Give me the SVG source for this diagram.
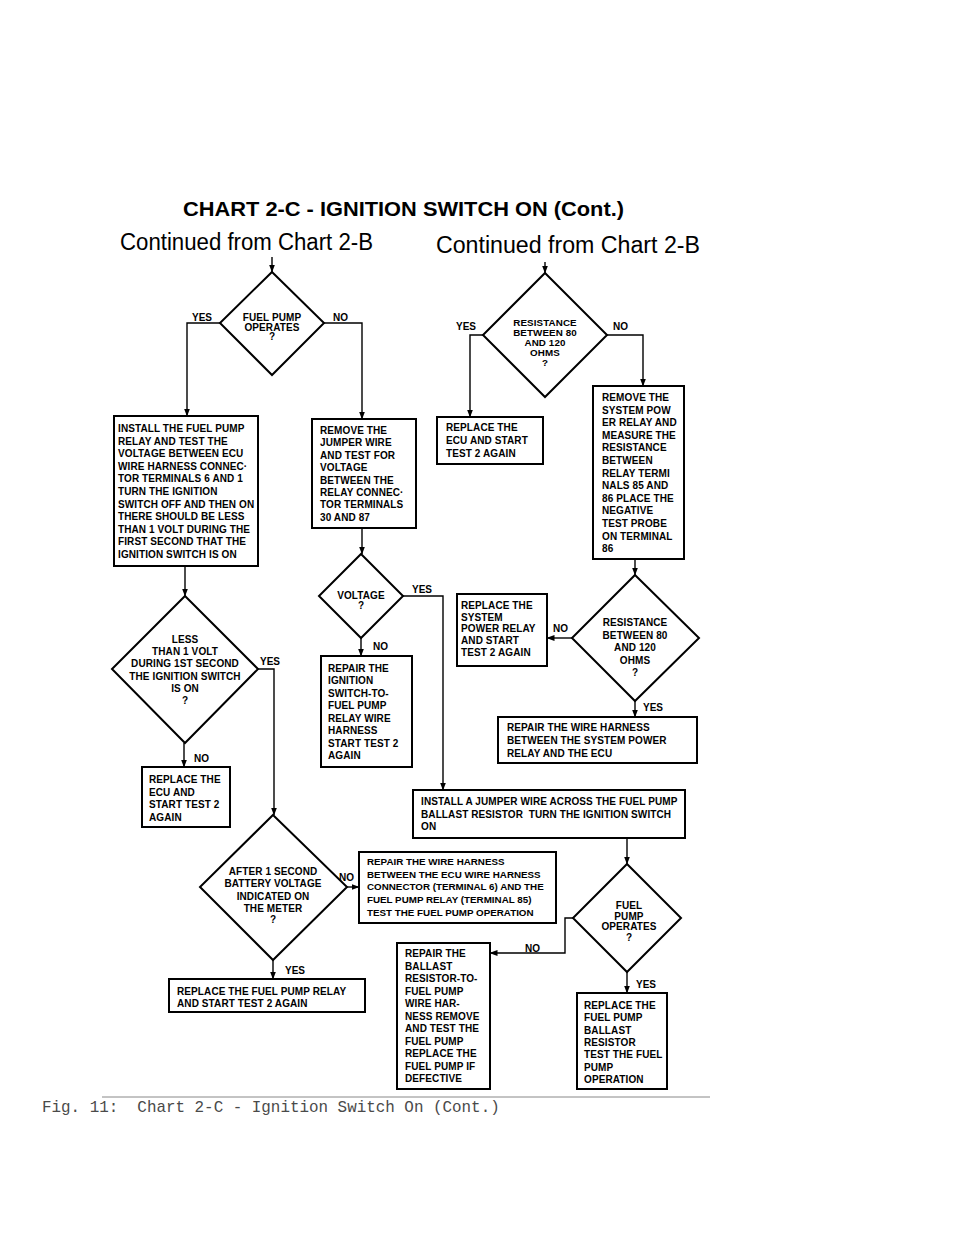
<svg xmlns="http://www.w3.org/2000/svg" width="960" height="1242" viewBox="0 0 960 1242">
<style>
.bg{fill:#fff}
.box{fill:#fff;stroke:#000;stroke-width:2}
.dia{fill:#fff;stroke:#000;stroke-width:2}
.conn{fill:none;stroke:#000;stroke-width:1.4}
.t{font-family:"Liberation Sans",Arial,sans-serif;font-weight:bold;font-size:10px;letter-spacing:0.1px;fill:#000}
.c{text-anchor:middle}
.lbl{font-family:"Liberation Sans",Arial,sans-serif;font-weight:bold;font-size:10px;fill:#000}
.title{font-family:"Liberation Sans",Arial,sans-serif;font-weight:900;font-size:19.5px;fill:#000}
.cont{font-family:"Liberation Sans",Arial,sans-serif;font-size:23px;fill:#000}
.cap{font-family:"Liberation Mono","Courier New",monospace;font-size:15.9px;fill:#4a4a4a}
</style>
<defs>
<marker id="ah" markerUnits="userSpaceOnUse" markerWidth="8" markerHeight="8" viewBox="0 0 8 8" refX="7.5" refY="4" orient="auto">
<path d="M0,1 L8,4 L0,7 Z" fill="#000"/>
</marker>
</defs>
<rect class="bg" x="0" y="0" width="960" height="1242"/>

<text class="title" x="183" y="216" textLength="441" lengthAdjust="spacingAndGlyphs">CHART 2-C  -  IGNITION SWITCH ON (Cont.)</text>
<text class="cont" x="120" y="250" textLength="253" lengthAdjust="spacingAndGlyphs">Continued from Chart 2-B</text>
<text class="cont" x="436" y="253" textLength="264" lengthAdjust="spacingAndGlyphs">Continued from Chart 2-B</text>

<g id="connectors">
<path class="conn" d="M272,257 V272" marker-end="url(#ah)"/>
<path class="conn" d="M545,262 V273" marker-end="url(#ah)"/>
<path class="conn" d="M220,323 H187 V416" marker-end="url(#ah)"/>
<path class="conn" d="M324,323 H362 V419" marker-end="url(#ah)"/>
<path class="conn" d="M362,528 V554" marker-end="url(#ah)"/>
<path class="conn" d="M403,596 H443 V790" marker-end="url(#ah)"/>
<path class="conn" d="M361,638 V656" marker-end="url(#ah)"/>
<path class="conn" d="M185,566 V596" marker-end="url(#ah)"/>
<path class="conn" d="M257,669 H274 V815" marker-end="url(#ah)"/>
<path class="conn" d="M184,743 V767" marker-end="url(#ah)"/>
<path class="conn" d="M347,887 H359" marker-end="url(#ah)"/>
<path class="conn" d="M273,960 V979" marker-end="url(#ah)"/>
<path class="conn" d="M483,335 H470 V417" marker-end="url(#ah)"/>
<path class="conn" d="M607,335 H643 V386" marker-end="url(#ah)"/>
<path class="conn" d="M635,559 V575" marker-end="url(#ah)"/>
<path class="conn" d="M572,638 H547" marker-end="url(#ah)"/>
<path class="conn" d="M635,701 V717" marker-end="url(#ah)"/>
<path class="conn" d="M627,838 V864" marker-end="url(#ah)"/>
<path class="conn" d="M573,918 H565 V953 H490" marker-end="url(#ah)"/>
<path class="conn" d="M627,972 V993" marker-end="url(#ah)"/>
</g>

<g id="labels">
<text class="lbl" x="192" y="321">YES</text>
<text class="lbl" x="333" y="321">NO</text>
<text class="lbl" x="456" y="330">YES</text>
<text class="lbl" x="613" y="330">NO</text>
<text class="lbl" x="412" y="593">YES</text>
<text class="lbl" x="373" y="650">NO</text>
<text class="lbl" x="260" y="665">YES</text>
<text class="lbl" x="194" y="762">NO</text>
<text class="lbl" x="553" y="632">NO</text>
<text class="lbl" x="643" y="711">YES</text>
<text class="lbl" x="339" y="881">NO</text>
<text class="lbl" x="285" y="974">YES</text>
<text class="lbl" x="525" y="952">NO</text>
<text class="lbl" x="636" y="988">YES</text>
</g>

<g id="d_fuelpump1">
<polygon class="dia" points="272,272 324,323 272,375 220,323"/>
<text class="t c" x="272" y="321">FUEL PUMP<tspan x="272" dy="10">OPERATES</tspan><tspan x="272" dy="9">?</tspan></text>
</g>

<g id="b_install_relay">
<rect class="box" x="114" y="416" width="144" height="150"/>
<text class="t" x="118" y="432">INSTALL THE FUEL PUMP<tspan x="118" dy="12.6">RELAY AND TEST THE</tspan><tspan x="118" dy="12.6">VOLTAGE BETWEEN ECU</tspan><tspan x="118" dy="12.6">WIRE HARNESS CONNEC·</tspan><tspan x="118" dy="12.6">TOR TERMINALS 6 AND 1</tspan><tspan x="118" dy="12.6">TURN THE IGNITION</tspan><tspan x="118" dy="12.6">SWITCH OFF AND THEN ON</tspan><tspan x="118" dy="12.6">THERE SHOULD BE LESS</tspan><tspan x="118" dy="12.6">THAN 1 VOLT DURING THE</tspan><tspan x="118" dy="12.6">FIRST SECOND THAT THE</tspan><tspan x="118" dy="12.6">IGNITION SWITCH IS ON</tspan></text>
</g>

<g id="b_remove_jumper">
<rect class="box" x="312" y="419" width="104" height="109"/>
<text class="t" x="320" y="434">REMOVE THE<tspan x="320" dy="12.4">JUMPER WIRE</tspan><tspan x="320" dy="12.4">AND TEST FOR</tspan><tspan x="320" dy="12.4">VOLTAGE</tspan><tspan x="320" dy="12.4">BETWEEN THE</tspan><tspan x="320" dy="12.4">RELAY CONNEC·</tspan><tspan x="320" dy="12.4">TOR TERMINALS</tspan><tspan x="320" dy="12.4">30 AND 87</tspan></text>
</g>

<g id="d_voltage">
<polygon class="dia" points="361,554 403,596 361,638 319,596"/>
<text class="t c" x="361" y="599">VOLTAGE<tspan x="361" dy="10">?</tspan></text>
</g>

<g id="b_repair_ign">
<rect class="box" x="321" y="656" width="91" height="111"/>
<text class="t" x="328" y="672">REPAIR THE<tspan x="328" dy="12.45">IGNITION</tspan><tspan x="328" dy="12.45">SWITCH-TO-</tspan><tspan x="328" dy="12.45">FUEL PUMP</tspan><tspan x="328" dy="12.45">RELAY WIRE</tspan><tspan x="328" dy="12.45">HARNESS</tspan><tspan x="328" dy="12.45">START TEST 2</tspan><tspan x="328" dy="12.45">AGAIN</tspan></text>
</g>

<g id="d_less">
<polygon class="dia" points="185,596 258,669 185,743 112,669"/>
<text class="t c" x="185" y="643">LESS<tspan x="185" dy="12.2">THAN 1 VOLT</tspan><tspan x="185" dy="12.2">DURING 1ST SECOND</tspan><tspan x="185" dy="12.2">THE IGNITION SWITCH</tspan><tspan x="185" dy="12.2">IS ON</tspan><tspan x="185" dy="12">?</tspan></text>
</g>

<g id="b_replace_ecu_left">
<rect class="box" x="142" y="767" width="88" height="60"/>
<text class="t" x="149" y="783">REPLACE THE<tspan x="149" dy="12.5">ECU AND</tspan><tspan x="149" dy="12.5">START TEST 2</tspan><tspan x="149" dy="12.5">AGAIN</tspan></text>
</g>

<g id="d_after">
<polygon class="dia" points="273,815 347,887 273,960 200,887"/>
<text class="t c" x="273" y="875">AFTER 1 SECOND<tspan x="273" dy="12.3">BATTERY VOLTAGE</tspan><tspan x="273" dy="12.3">INDICATED ON</tspan><tspan x="273" dy="12.3">THE METER</tspan><tspan x="273" dy="11.5">?</tspan></text>
</g>

<g id="b_replace_fp_relay">
<rect class="box" x="169" y="979" width="196" height="33"/>
<text class="t" x="177" y="995">REPLACE THE FUEL PUMP RELAY<tspan x="177" dy="12">AND START TEST 2 AGAIN</tspan></text>
</g>

<g id="d_res1">
<polygon class="dia" points="545,273 607,335 545,397 483,335"/>
<text class="t c" x="545" y="326" style="font-size:9.8px">RESISTANCE<tspan x="545" dy="10">BETWEEN 80</tspan><tspan x="545" dy="10">AND 120</tspan><tspan x="545" dy="9.5">OHMS</tspan><tspan x="545" dy="10">?</tspan></text>
</g>

<g id="b_replace_ecu_right">
<rect class="box" x="437" y="417" width="106" height="47"/>
<text class="t" x="446" y="431">REPLACE THE<tspan x="446" dy="13">ECU AND START</tspan><tspan x="446" dy="13">TEST 2 AGAIN</tspan></text>
</g>

<g id="b_remove_sys_relay">
<rect class="box" x="593" y="386" width="91" height="173"/>
<text class="t" x="602" y="401">REMOVE THE<tspan x="602" dy="12.6">SYSTEM POW</tspan><tspan x="602" dy="12.6">ER RELAY AND</tspan><tspan x="602" dy="12.6">MEASURE THE</tspan><tspan x="602" dy="12.6">RESISTANCE</tspan><tspan x="602" dy="12.6">BETWEEN</tspan><tspan x="602" dy="12.6">RELAY TERMI</tspan><tspan x="602" dy="12.6">NALS 85 AND</tspan><tspan x="602" dy="12.6">86 PLACE THE</tspan><tspan x="602" dy="12.6">NEGATIVE</tspan><tspan x="602" dy="12.6">TEST PROBE</tspan><tspan x="602" dy="12.6">ON TERMINAL</tspan><tspan x="602" dy="12.6">86</tspan></text>
</g>

<g id="d_res2">
<polygon class="dia" points="635,575 699,638 635,701 572,638"/>
<text class="t c" x="635" y="626">RESISTANCE<tspan x="635" dy="12.5">BETWEEN 80</tspan><tspan x="635" dy="12.5">AND 120</tspan><tspan x="635" dy="12.5">OHMS</tspan><tspan x="635" dy="12.5">?</tspan></text>
</g>

<g id="b_replace_sys_relay">
<rect class="box" x="457" y="594" width="90" height="72"/>
<text class="t" x="461" y="609">REPLACE THE<tspan x="461" dy="11.7">SYSTEM</tspan><tspan x="461" dy="11.7">POWER RELAY</tspan><tspan x="461" dy="11.7">AND START</tspan><tspan x="461" dy="11.7">TEST 2 AGAIN</tspan></text>
</g>

<g id="b_repair_sys_harness">
<rect class="box" x="498" y="717" width="199" height="46"/>
<text class="t" x="507" y="731">REPAIR THE WIRE HARNESS<tspan x="507" dy="13">BETWEEN THE SYSTEM POWER</tspan><tspan x="507" dy="13">RELAY AND THE ECU</tspan></text>
</g>

<g id="b_install_jumper">
<rect class="box" x="413" y="790" width="272" height="48"/>
<text class="t" x="421" y="805">INSTALL A JUMPER WIRE ACROSS THE FUEL PUMP<tspan x="421" dy="12.5" xml:space="preserve">BALLAST RESISTOR  TURN THE IGNITION SWITCH</tspan><tspan x="421" dy="12.5">ON</tspan></text>
</g>

<g id="b_repair_ecu_harness">
<rect class="box" x="359" y="852" width="197" height="71"/>
<text class="t" x="367" y="865" style="font-size:9.8px;letter-spacing:0px">REPAIR THE WIRE HARNESS<tspan x="367" dy="12.7">BETWEEN THE ECU WIRE HARNESS</tspan><tspan x="367" dy="12.7">CONNECTOR (TERMINAL 6) AND THE</tspan><tspan x="367" dy="12.7">FUEL PUMP RELAY (TERMINAL 85)</tspan><tspan x="367" dy="12.7">TEST THE FUEL PUMP OPERATION</tspan></text>
</g>

<g id="d_fuelpump2">
<polygon class="dia" points="627,864 681,918 627,972 573,918"/>
<text class="t c" x="629" y="909">FUEL<tspan x="629" dy="10.7">PUMP</tspan><tspan x="629" dy="10.7">OPERATES</tspan><tspan x="629" dy="10.7">?</tspan></text>
</g>

<g id="b_repair_ballast">
<rect class="box" x="397" y="943" width="93" height="146"/>
<text class="t" x="405" y="957">REPAIR THE<tspan x="405" dy="12.5">BALLAST</tspan><tspan x="405" dy="12.5">RESISTOR-TO-</tspan><tspan x="405" dy="12.5">FUEL PUMP</tspan><tspan x="405" dy="12.5">WIRE HAR-</tspan><tspan x="405" dy="12.5">NESS REMOVE</tspan><tspan x="405" dy="12.5">AND TEST THE</tspan><tspan x="405" dy="12.5">FUEL PUMP</tspan><tspan x="405" dy="12.5">REPLACE THE</tspan><tspan x="405" dy="12.5">FUEL PUMP IF</tspan><tspan x="405" dy="12.5">DEFECTIVE</tspan></text>
</g>

<g id="b_replace_ballast">
<rect class="box" x="577" y="993" width="90" height="96"/>
<text class="t" x="584" y="1009">REPLACE THE<tspan x="584" dy="12.3">FUEL PUMP</tspan><tspan x="584" dy="12.3">BALLAST</tspan><tspan x="584" dy="12.3">RESISTOR</tspan><tspan x="584" dy="12.3">TEST THE FUEL</tspan><tspan x="584" dy="12.3">PUMP</tspan><tspan x="584" dy="12.3">OPERATION</tspan></text>
</g>

<line x1="102" y1="1097" x2="710" y2="1097" stroke="#888" stroke-width="1"/>
<text class="cap" x="42" y="1112" xml:space="preserve">Fig. 11:  Chart 2-C - Ignition Switch On (Cont.)</text>
</svg>
